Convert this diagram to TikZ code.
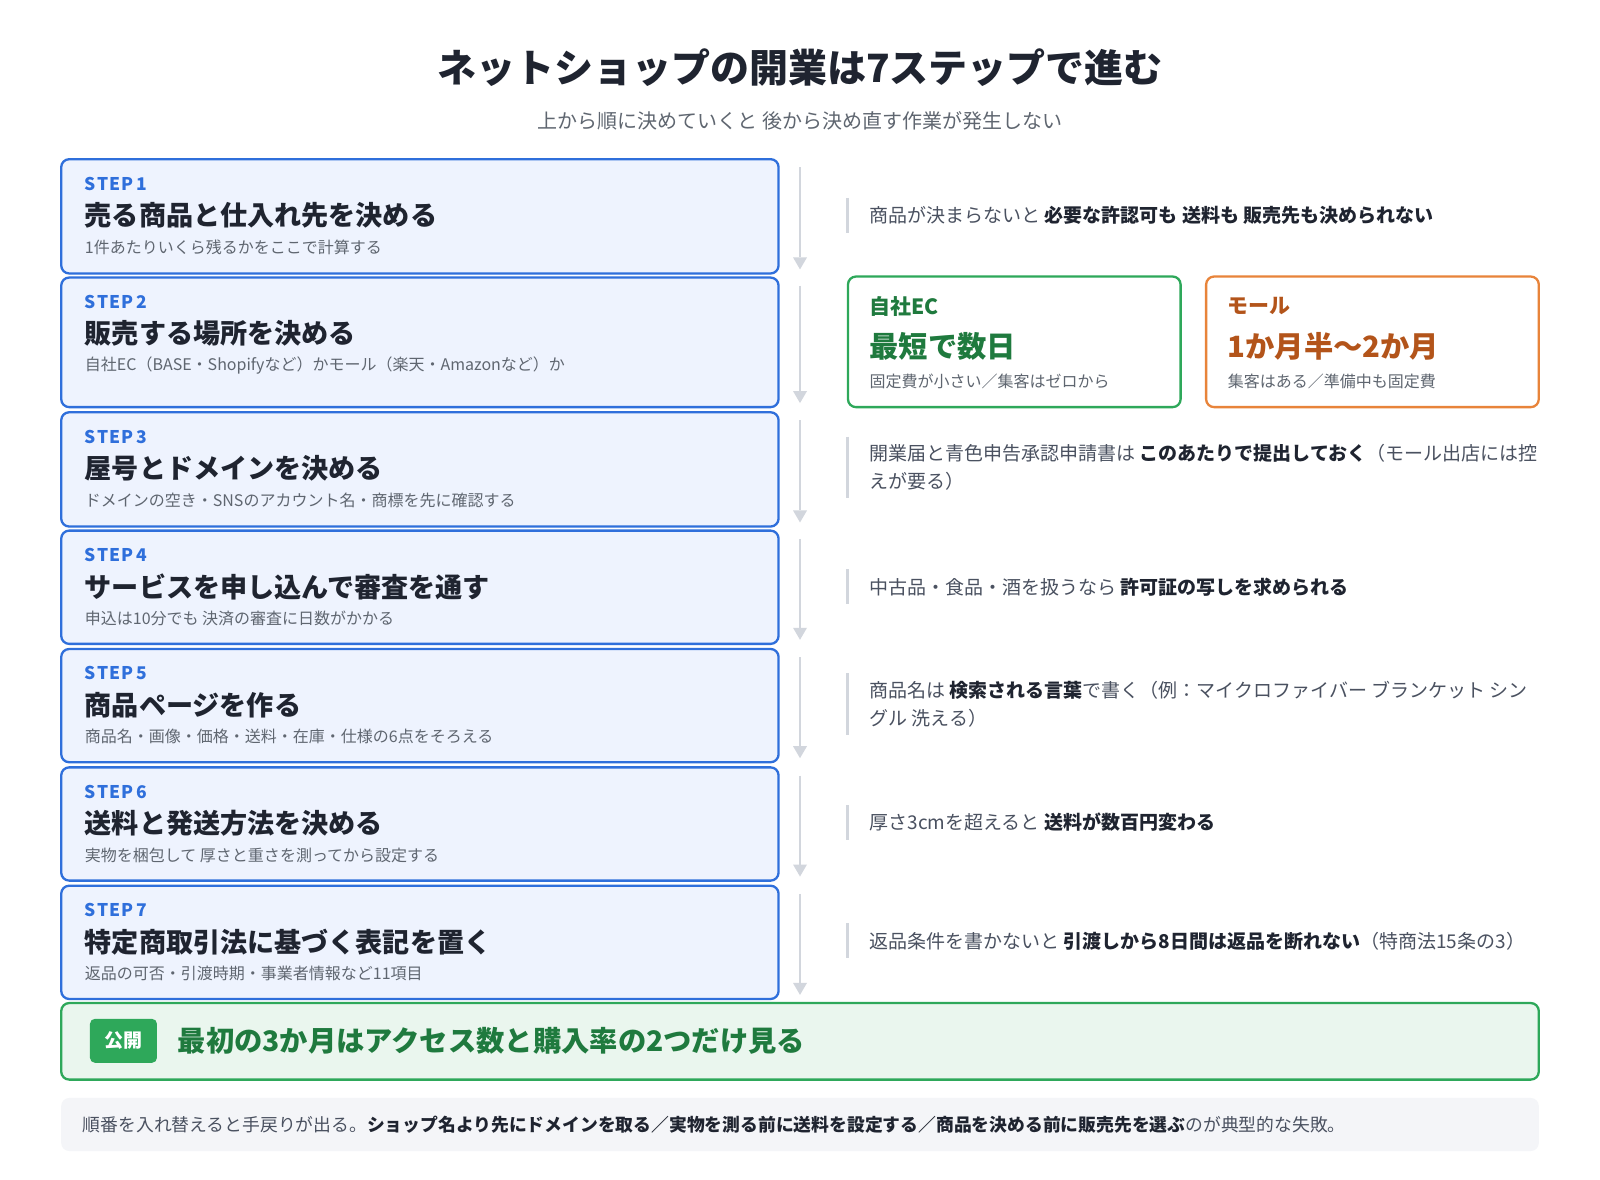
\documentclass[tikz,border=0pt]{standalone}
\usepackage{fontspec}
\setmainfont{Noto Sans CJK JP}
\begin{document}
\begin{tikzpicture}[x=1.0204pt,y=-1.0204pt,
 stepbox/.style={draw=stepblue,line width=2.3pt,fill=stepfill,rounded corners=8pt},
 lab/.style={anchor=west,inner sep=0pt,text=stepblue,font=\fontsize{17.5}{17}\selectfont\bfseries},
 ttl/.style={anchor=west,inner sep=0pt,text=ink,font=\fontsize{27.1}{27}\selectfont\bfseries},
 sub/.style={anchor=west,inner sep=0pt,text=greytxt,font=\fontsize{16}{16}\selectfont},
 note/.style={anchor=west,inner sep=0pt,text=notetxt,font=\fontsize{19}{28}\selectfont,align=left},
 bar/.style={draw=bargray,line width=3pt},
 flow/.style={draw=bargray,line width=1.6pt}]
\definecolor{stepblue}{HTML}{2F6FDB}
\definecolor{stepfill}{HTML}{EEF3FE}
\definecolor{ink}{HTML}{1F2430}
\definecolor{greytxt}{HTML}{5F6670}
\definecolor{notetxt}{HTML}{4A5160}
\definecolor{bargray}{HTML}{D2D6DD}
\definecolor{ecgreen}{HTML}{2EA85A}
\definecolor{ecdark}{HTML}{1F7A3E}
\definecolor{orangeb}{HTML}{E8843A}
\definecolor{orangedark}{HTML}{B3541A}
\definecolor{greenfill}{HTML}{EAF6EE}
\definecolor{footfill}{HTML}{F4F5F8}
\fill[white] (0,0) rectangle (1568,1156.4);
\node[text=ink,font=\fontsize{39}{39}\selectfont\bfseries] (title) at (784,66) {ネットショップの開業は7ステップで進む};
\node[text=greytxt,font=\fontsize{20}{20}\selectfont] (subt) at (784,118) {上から順に決めていくと 後から決め直す作業が発生しない};
% steps
\foreach \i/\t/\b/\T/\S in {
 1/156/268/売る商品と仕入れ先を決める/1件あたりいくら残るかをここで計算する,
 2/272/399/販売する場所を決める/{自社EC（BASE・Shopifyなど）かモール（楽天・Amazonなど）か},
 3/404/516/屋号とドメインを決める/ドメインの空き・SNSのアカウント名・商標を先に確認する,
 4/520/631/サービスを申し込んで審査を通す/申込は10分でも 決済の審査に日数がかかる,
 5/636/747/商品ページを作る/商品名・画像・価格・送料・在庫・仕様の6点をそろえる,
 6/752/863/送料と発送方法を決める/実物を梱包して 厚さと重さを測ってから設定する,
 7/868/979/特定商取引法に基づく表記を置く/返品の可否・引渡時期・事業者情報など11項目}{
 \draw[stepbox] (60,\t) rectangle (763,\b);
 \node[lab] (s\i) at (83,\t+24) {S\kern1pt T\kern1pt E\kern1pt P\kern3pt\i};
 \node[ttl] (t\i) at (83,\t+55) {\T};
 \node[sub] (u\i) at (83,\t+86) {\S};
 \coordinate (a\i) at (784,\t+8);
 \coordinate (b\i) at (784,\b-4);
 \draw[flow] (a\i) -- ([yshift=12pt]b\i);
 \fill[bargray] ([yshift=12pt,xshift=-7pt]b\i) -- ([yshift=12pt,xshift=7pt]b\i) -- (b\i) -- cycle;
}
% notes
\foreach \i/\y/\h in {1/211/17,3/458/30,4/575/17,5/690/30,6/806/17,7/922/17}{
 \draw[bar] (831,\y-\h) -- (831,\y+\h);
}
\node[note] (n1) at (852,211) {商品が決まらないと \textbf{\color{ink}必要な許認可も 送料も 販売先も決められない}};
\node[note] (n3) at (852,458) {開業届と青色申告承認申請書は \textbf{\color{ink}このあたりで提出しておく}（モール出店には控\\えが要る）};
\node[note] (n4) at (852,575) {中古品・食品・酒を扱うなら \textbf{\color{ink}許可証の写しを求められる}};
\node[note] (n5) at (852,690) {商品名は \textbf{\color{ink}検索される言葉}で書く（例：マイクロファイバー ブランケット シン\\グル 洗える）};
\node[note] (n6) at (852,806) {厚さ3cmを超えると \textbf{\color{ink}送料が数百円変わる}};
\node[note] (n7) at (852,922) {返品条件を書かないと \textbf{\color{ink}引渡しから8日間は返品を断れない}（特商法15条の3）};
% EC / mall
\draw[draw=ecgreen,line width=2.3pt,fill=white,rounded corners=8pt] (831,271) rectangle (1157,399);
\node[anchor=west,inner sep=0pt,text=ecdark,font=\fontsize{21}{21}\selectfont\bfseries] (ec1) at (852,300) {自社EC};
\node[anchor=west,inner sep=0pt,text=ecdark,font=\fontsize{29.3}{29}\selectfont\bfseries] (ec2) at (852,339) {最短で数日};
\node[anchor=west,inner sep=0pt,text=greytxt,font=\fontsize{16}{16}\selectfont] (ec3) at (852,374) {固定費が小さい／集客はゼロから};
\draw[draw=orangeb,line width=2.3pt,fill=white,rounded corners=8pt] (1182,271) rectangle (1508,399);
\node[anchor=west,inner sep=0pt,text=orangedark,font=\fontsize{21}{21}\selectfont\bfseries] (m1) at (1203,300) {モール};
\node[anchor=west,inner sep=0pt,text=orangedark,font=\fontsize{29.3}{29}\selectfont\bfseries] (m2) at (1203,339) {1か月半〜2か月};
\node[anchor=west,inner sep=0pt,text=greytxt,font=\fontsize{16}{16}\selectfont] (m3) at (1203,374) {集客はある／準備中も固定費};
% launch
\draw[draw=ecgreen,line width=2.3pt,fill=greenfill,rounded corners=8pt] (60,983) rectangle (1508,1058);
\node[fill=ecgreen,rounded corners=5pt,text=white,minimum width=67pt,minimum height=44pt,inner sep=0pt,font=\fontsize{19}{19}\selectfont\bfseries] (pub) at (121,1020) {公開};
\node[anchor=west,inner sep=0pt,text=ecdark,font=\fontsize{28.3}{28}\selectfont\bfseries] (pubt) at (174,1020) {最初の3か月はアクセス数と購入率の2つだけ見る};
% footer
\fill[footfill,rounded corners=8pt] (60,1076) rectangle (1508,1128);
\node[anchor=west,inner sep=0pt,text=notetxt,font=\fontsize{17.8}{18}\selectfont] (foot) at (81,1102) {順番を入れ替えると手戻りが出る。\textbf{\color{ink}ショップ名より先にドメインを取る／実物を測る前に送料を設定する／商品を決める前に販売先を選ぶ}のが典型的な失敗。};
\pgfresetboundingbox
\useasboundingbox (0,0) rectangle (1568,1156.4);
\end{tikzpicture}
\end{document}
